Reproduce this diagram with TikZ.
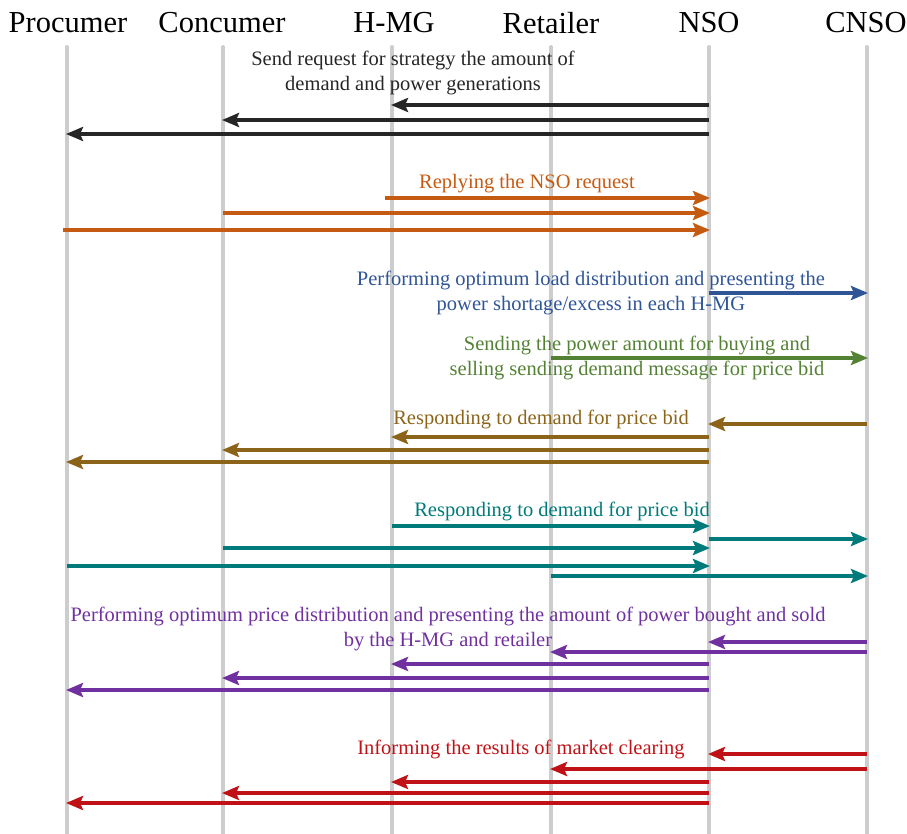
\documentclass[tikz,border=0pt]{standalone}
\usepackage{fontspec}
\setmainfont{Liberation Serif}
\usetikzlibrary{arrows.meta}
\definecolor{cblack}{RGB}{38,38,38}
\definecolor{corange}{RGB}{197,90,17}
\definecolor{cblue}{RGB}{47,85,151}
\definecolor{cgreen}{RGB}{84,130,53}
\definecolor{cbrown}{RGB}{140,100,25}
\definecolor{cteal}{RGB}{0,122,122}
\definecolor{cpurple}{RGB}{112,48,160}
\definecolor{cred}{RGB}{192,18,22}
\definecolor{cgray}{RGB}{205,205,205}
\begin{document}
\begin{tikzpicture}[x=1pt,y=-1pt,
  header/.style={font=\fontsize{30.5}{30}\selectfont, anchor=center, inner sep=0pt},
  lifeline/.style={draw=cgray, line width=4pt, line cap=round},
  msg/.style={line width=3.6pt, -{Stealth[length=17pt,width=14pt,inset=3pt]}, shorten >=-1pt},
  lbl/.style={font=\fontsize{20.5}{25}\selectfont, align=center, inner sep=0pt}]
\useasboundingbox (0,0) rectangle (907,833);
% headers
\node[header] (P) at (68,23) {Procumer};
\node[header] (C) at (222,23) {Concumer};
\node[header] (H) at (394,23) {H-MG};
\node[header] (R) at (551,23) {Retailer};
\node[header] (N) at (709,23) {NSO};
\node[header] (X) at (866,23) {CNSO};
% lifelines
\foreach \n/\x in {P/67,C/223,H/392,R/551,N/709,X/867}{
  \coordinate (\n t) at (\x,47);
  \coordinate (\n b) at (\x,840);
  \draw[lifeline] (\n t) -- (\n b);
}
% black
\node[lbl, text=cblack] (t1) at (413,73) {Send request for strategy the amount of\\demand and power generations};
\draw[msg, cblack] (Nt |- 0,105) -- (Ht |- 0,105);
\draw[msg, cblack] (Nt |- 0,120) -- (Ct |- 0,120);
\draw[msg, cblack] (Nt |- 0,134) -- (Pt |- 0,134);
% orange
\node[lbl, text=corange] (t2) at (527,184) {Replying the NSO request};
\draw[msg, corange] (385,198) -- (Nt |- 0,198);
\draw[msg, corange] (Ct |- 0,213) -- (Nt |- 0,213);
\draw[msg, corange] (63,230) -- (Nt |- 0,230);
% blue
\node[lbl, text=cblue] (t3) at (591,293) {Performing optimum load distribution and presenting the\\power shortage/excess in each H-MG};
\draw[msg, cblue] (Nt |- 0,293) -- (Xt |- 0,293);
% green
\node[lbl, text=cgreen] (t4) at (637,358) {Sending the power amount for buying and\\selling sending demand message for price bid};
\draw[msg, cgreen] (Rt |- 0,358) -- (Xt |- 0,358);
% brown
\node[lbl, text=cbrown] (t5) at (541,419) {Responding to demand for price bid};
\draw[msg, cbrown] (Xt |- 0,424) -- (Nt |- 0,424);
\draw[msg, cbrown] (Nt |- 0,437) -- (Ht |- 0,437);
\draw[msg, cbrown] (Nt |- 0,450) -- (Ct |- 0,450);
\draw[msg, cbrown] (Nt |- 0,462) -- (Pt |- 0,462);
% teal
\node[lbl, text=cteal] (t6) at (562,511) {Responding to demand for price bid};
\draw[msg, cteal] (Ht |- 0,526) -- (Nt |- 0,526);
\draw[msg, cteal] (Nt |- 0,539) -- (Xt |- 0,539);
\draw[msg, cteal] (Ct |- 0,548) -- (Nt |- 0,548);
\draw[msg, cteal] (Pt |- 0,566) -- (Nt |- 0,566);
\draw[msg, cteal] (Rt |- 0,576) -- (Xt |- 0,576);
% purple
\node[lbl, text=cpurple] (t7) at (448,629) {Performing optimum price distribution and presenting the amount of power bought and sold\\by the H-MG and retailer};
\draw[msg, cpurple] (Xt |- 0,642) -- (Nt |- 0,642);
\draw[msg, cpurple] (Xt |- 0,652) -- (Rt |- 0,652);
\draw[msg, cpurple] (Nt |- 0,664) -- (Ht |- 0,664);
\draw[msg, cpurple] (Nt |- 0,678) -- (Ct |- 0,678);
\draw[msg, cpurple] (Nt |- 0,690) -- (Pt |- 0,690);
% red
\node[lbl, text=cred] (t8) at (521,749) {Informing the results of market clearing};
\draw[msg, cred] (Xt |- 0,754) -- (Nt |- 0,754);
\draw[msg, cred] (Xt |- 0,769) -- (Rt |- 0,769);
\draw[msg, cred] (Nt |- 0,782) -- (Ht |- 0,782);
\draw[msg, cred] (Nt |- 0,793) -- (Ct |- 0,793);
\draw[msg, cred] (Nt |- 0,803) -- (Pt |- 0,803);
\end{tikzpicture}
\end{document}
